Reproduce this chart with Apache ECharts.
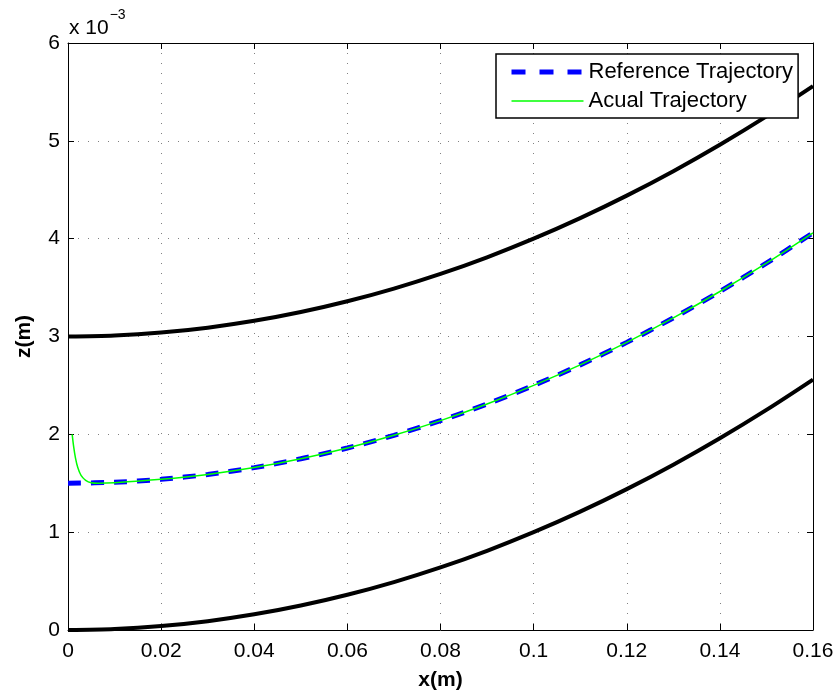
<!DOCTYPE html>
<html>
<head>
<meta charset="utf-8">
<script src="https://cdn.jsdelivr.net/npm/echarts@6/dist/echarts.min.js"></script>
<style>html,body{margin:0;padding:0;background:#fff;}#c{width:839px;height:698px;}</style>
</head>
<body>
<div id="c"></div>
<script>
// x positions (m)
var xVals = [0, 0.01, 0.02, 0.03, 0.04, 0.05, 0.06, 0.07, 0.08, 0.09, 0.10, 0.11, 0.12, 0.13, 0.14, 0.15, 0.16];
// z values in units of 1e-3 m
var upperZ = [3.00, 3.01, 3.04, 3.09, 3.16, 3.25, 3.36, 3.49, 3.64, 3.81, 4.00, 4.21, 4.44, 4.69, 4.96, 5.25, 5.56];
var refZ   = [1.50, 1.51, 1.54, 1.59, 1.66, 1.75, 1.86, 1.99, 2.14, 2.31, 2.50, 2.71, 2.94, 3.19, 3.46, 3.75, 4.06];
var lowerZ = [0.00, 0.01, 0.04, 0.09, 0.16, 0.25, 0.36, 0.49, 0.64, 0.81, 1.00, 1.21, 1.44, 1.69, 1.96, 2.25, 2.56];
// actual trajectory: initial transient then tracking
var actX = [0.0009, 0.0012, 0.0016, 0.0021, 0.0028, 0.0038, 0.005, 0.0065, 0.01, 0.02, 0.03, 0.04, 0.05, 0.06, 0.07, 0.08, 0.09, 0.10, 0.11, 0.12, 0.13, 0.14, 0.15, 0.16];
var actZ = [2.00, 1.88, 1.76, 1.66, 1.58, 1.53, 1.505, 1.50, 1.505, 1.54, 1.59, 1.66, 1.75, 1.86, 1.99, 2.14, 2.31, 2.50, 2.71, 2.94, 3.19, 3.46, 3.75, 4.06];
var xTicks = ['0', '0.02', '0.04', '0.06', '0.08', '0.1', '0.12', '0.14', '0.16'];
var yTicks = ['0', '1', '2', '3', '4', '5', '6'];

function pairs(xs, ys) { return xs.map(function (x, i) { return [x, ys[i]]; }); }

var font = 'Liberation Sans, Arial, Helvetica, sans-serif';
var chart = echarts.init(document.getElementById('c'));
var gridLine = { show: true, lineStyle: { color: '#808080', width: 1, type: [1, 9] } };

chart.setOption({
  animation: false,
  backgroundColor: '#fff',
  grid: { left: 68, right: 26, top: 43, bottom: 68, containLabel: false },
  xAxis: [{
    type: 'value', min: 0, max: 0.16, interval: 0.02,
    axisLine: { show: true, lineStyle: { color: '#000', width: 1 } },
    axisTick: { show: true, inside: true, length: 6, lineStyle: { color: '#000' } },
    axisLabel: { color: '#000', fontSize: 21, fontFamily: font, margin: 11,
      formatter: function (v) { var i = Math.round(v / 0.02); return xTicks[i]; } },
    splitLine: gridLine,
    name: 'x(m)', nameLocation: 'middle', nameGap: 40,
    nameTextStyle: { color: '#000', fontSize: 21, fontWeight: 'bold', fontFamily: font }
  }, {
    type: 'value', min: 0, max: 0.16, interval: 0.02, position: 'top',
    axisLine: { show: true, onZero: false, lineStyle: { color: '#000', width: 1 } },
    axisTick: { show: true, inside: true, length: 6, lineStyle: { color: '#000' } },
    axisLabel: { show: false }, splitLine: { show: false }
  }],
  yAxis: [{
    type: 'value', min: 0, max: 6, interval: 1,
    axisLine: { show: true, lineStyle: { color: '#000', width: 1 } },
    axisTick: { show: true, inside: true, length: 6, lineStyle: { color: '#000' } },
    axisLabel: { color: '#000', fontSize: 21, fontFamily: font, margin: 8,
      formatter: function (v) { return yTicks[Math.round(v)]; } },
    splitLine: gridLine,
    name: 'z(m)', nameLocation: 'middle', nameGap: 33, nameRotate: 90,
    nameTextStyle: { color: '#000', fontSize: 21, fontWeight: 'bold', fontFamily: font }
  }, {
    type: 'value', min: 0, max: 6, interval: 1, position: 'right',
    axisLine: { show: true, onZero: false, lineStyle: { color: '#000', width: 1 } },
    axisTick: { show: true, inside: true, length: 6, lineStyle: { color: '#000' } },
    axisLabel: { show: false }, splitLine: { show: false }
  }],
  legend: {
    left: 496, top: 54, orient: 'vertical',
    data: [
      { name: 'Reference Trajectory', lineStyle: { type: [14, 14], width: 5, color: '#0000ff' } },
      { name: 'Acual Trajectory', lineStyle: { width: 1.5, color: '#00ff00' } }
    ],
    backgroundColor: '#fff', borderColor: '#000', borderWidth: 1.5, borderRadius: 0,
    padding: [7, 5, 6, 13], itemGap: 7, itemWidth: 72, itemHeight: 18,
    itemStyle: { opacity: 0 },
    textStyle: { color: '#000', fontSize: 22, lineHeight: 22, fontFamily: font }
  },
  graphic: [{
    type: 'text', left: 69, top: 8,
    style: {
      text: '{a|x 10}{b|−3}',
      rich: {
        a: { fontSize: 21, fontFamily: font, fill: '#000', padding: [10, 0, 0, 0] },
        b: { fontSize: 14, fontFamily: font, fill: '#000', verticalAlign: 'top', padding: [0, 0, 12, 1] }
      }
    }
  }],
  series: [{
    name: 'Upper', type: 'line', data: pairs(xVals, upperZ), smooth: 0.3, symbol: 'none',
    lineStyle: { color: '#000', width: 4 }, z: 2
  }, {
    name: 'Lower', type: 'line', data: pairs(xVals, lowerZ), smooth: 0.3, symbol: 'none',
    lineStyle: { color: '#000', width: 4 }, z: 2
  }, {
    name: 'Reference Trajectory', type: 'line', data: pairs(xVals, refZ), smooth: 0.3, symbol: 'none',
    lineStyle: { color: '#0000ff', width: 5, type: [13, 10] }, itemStyle: { color: '#0000ff' }, z: 3
  }, {
    name: 'Acual Trajectory', type: 'line', data: pairs(actX, actZ), smooth: 0.3, symbol: 'none',
    lineStyle: { color: '#00ff00', width: 1.5 }, itemStyle: { color: '#00ff00' }, z: 4
  }]
});
</script>
</body>
</html>
